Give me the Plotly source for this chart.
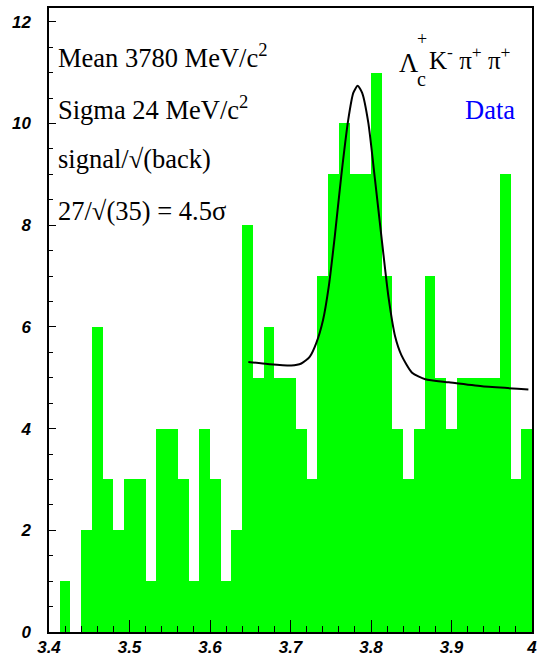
import plotly.graph_objects as go

# ---- data ----
x_min, x_max, n_bins = 3.4, 4.0, 45
counts = [0, 1, 0, 2, 6, 3, 2, 3, 3, 1,
          4, 4, 3, 1, 4, 3, 1, 2, 8, 5,
          6, 5, 5, 4, 3, 7, 9, 10, 9, 9,
          11, 7, 4, 3, 4, 7, 5, 4, 5, 5,
          5, 5, 9, 3, 4]

fit_x = [3.6476, 3.6717, 3.7009, 3.7134, 3.7238, 3.732, 3.7405, 3.7475, 3.755,
         3.763, 3.7717, 3.778, 3.7834, 3.789, 3.7967, 3.805, 3.8134, 3.8217,
         3.830, 3.8376, 3.851, 3.8675, 3.8967, 3.938, 3.9955]
fit_y = [5.31, 5.27, 5.24, 5.28, 5.41, 5.68, 6.14, 6.79, 7.78,
         8.96, 10.07, 10.6, 10.74, 10.6, 10.01, 8.89, 7.71, 6.59,
         5.81, 5.45, 5.1, 4.97, 4.91, 4.83, 4.77]

x_tickvals = [3.4, 3.5, 3.6, 3.7, 3.8, 3.9, 4.0]
x_ticktext = ["3.4", "3.5", "3.6", "3.7", "3.8", "3.9", "4"]
y_tickvals = [0, 2, 4, 6, 8, 10, 12]
y_ticktext = ["0", "2", "4", "6", "8", "10", "12"]

bin_width = (x_max - x_min) / n_bins
centers = [x_min + (i + 0.5) * bin_width for i in range(n_bins)]

W, H = 538, 663
ML, MR, MT, MB = 49, 6, 8, 31


def px(xp):
    return (xp - ML) / (W - ML - MR)


def py(yp):
    return (H - MB - yp) / (H - MT - MB)


fig = go.Figure()
fig.add_trace(go.Bar(x=centers, y=counts, width=bin_width,
                     marker=dict(color="#00ff00", line=dict(width=0)),
                     showlegend=False, hoverinfo="skip"))
fig.add_trace(go.Scatter(x=fit_x, y=fit_y, mode="lines",
                         line=dict(color="black", width=2, shape="spline", smoothing=0.6),
                         showlegend=False, hoverinfo="skip"))

sans = "Liberation Sans, Arial, Helvetica, sans-serif"
serif = "Liberation Serif, Times New Roman, Times, serif"
tickfont = dict(family=sans, size=17, color="black")


def bi(s):
    return "<b><i>" + s + "</i></b>"


fig.update_layout(
    width=W, height=H,
    margin=dict(l=ML, r=MR, t=MT, b=MB, pad=0, autoexpand=False),
    paper_bgcolor="white", plot_bgcolor="white",
    bargap=0,
    xaxis=dict(range=[x_min, x_max], tickvals=x_tickvals, ticktext=[bi(t) for t in x_ticktext],
               ticks="inside", ticklen=12, tickwidth=1, tickcolor="black",
               minor=dict(ticks="inside", ticklen=6, dtick=0.02, tick0=3.4, tickcolor="black"),
               showline=True, linecolor="black", linewidth=1.5, mirror=True, automargin=False,
               showgrid=False, zeroline=False, tickfont=tickfont, ticklabelstandoff=-1),
    yaxis=dict(range=[0, 12.27], tickvals=y_tickvals, ticktext=[bi(t) for t in y_ticktext],
               ticks="inside", ticklen=7, tickwidth=1, tickcolor="black",
               minor=dict(ticks="inside", ticklen=4, dtick=0.5, tick0=0, tickcolor="black"),
               showline=True, linecolor="black", linewidth=1.5, mirror=True, automargin=False,
               showgrid=False, zeroline=False, tickfont=tickfont, ticklabelstandoff=13),
)

txt_size = 26.5
left_lines = [
    ("Mean 3780 MeV/c<sup>2</sup>", 56),
    ("Sigma 24 MeV/c<sup>2</sup>", 108),
    ("signal/\u221a(back)", 159),
    ("27/\u221a(35) = 4.5\u03c3", 211),
]
for t, yc in left_lines:
    fig.add_annotation(text=t, x=px(56), y=py(yc), xref="paper", yref="paper",
                       xanchor="left", yanchor="middle", showarrow=False,
                       font=dict(family=serif, size=txt_size, color="black"))

# decay label
fig.add_annotation(text="\u039b", x=px(397), y=py(63), xref="paper", yref="paper",
                   xanchor="left", yanchor="middle", showarrow=False,
                   font=dict(family=serif, size=txt_size, color="black"))
fig.add_annotation(text="+", x=px(415), y=py(39), xref="paper", yref="paper",
                   xanchor="left", yanchor="middle", showarrow=False,
                   font=dict(family=serif, size=18, color="black"))
fig.add_annotation(text="c", x=px(415), y=py(79), xref="paper", yref="paper",
                   xanchor="left", yanchor="middle", showarrow=False,
                   font=dict(family=serif, size=20, color="black"))
fig.add_annotation(text="K<sup>-</sup> \u03c0<sup>+</sup> \u03c0<sup>+</sup>", x=px(427), y=py(58),
                   xref="paper", yref="paper",
                   xanchor="left", yanchor="middle", showarrow=False,
                   font=dict(family=serif, size=25, color="black"))
fig.add_annotation(text="Data", x=px(517), y=py(110), xref="paper", yref="paper",
                   xanchor="right", yanchor="middle", showarrow=False,
                   font=dict(family=serif, size=txt_size, color="blue"))

fig.write_html("out.html")
